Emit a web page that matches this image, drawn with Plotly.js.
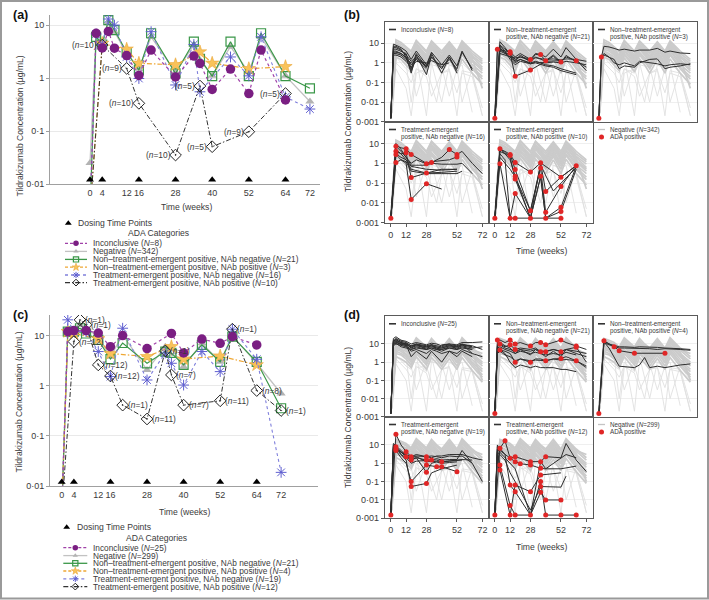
<!DOCTYPE html>
<html><head><meta charset="utf-8">
<script src="https://cdn.plot.ly/plotly-3.0.1.min.js"></script>
<style>html,body{margin:0;padding:0;background:#fff}#chart{width:709px;height:600px}</style>
</head><body><div id="chart"></div>
<script>
// ================= DATA =================
// ---- panels (a) & (c): mean concentration profiles ----
const weeksMean = [0,2,4,6,8,12,16,20,28,34,36,40,46,52,56,64,72];
const dosingWeeks = [0,4,16,28,40,52,64];
const dosingLevel = [0.012,0.012,0.012,0.012,0.012,0.012,0.012];
const xTicksMean = [0,4,12,16,28,40,52,64,72];
const yTickValsMean = [10,1,0.1,0.01];
const yTickTextMean = ['10','1','0·1','0·01'];

// (a)
const aInconclusive = [0.003,6.97,3.7,7.6,3.66,2.65,1.12,3.37,1.05,2.6,1.89,0.61,1.48,0.51,3.37,0.385,null];
const aNegative     = [0.025,7,4.5,11,7.5,2.9,1.5,6,1.3,4.2,2.2,1.1,3.9,1.3,6,1.1,0.36];
const aNtNeg        = [0.003,6,4.3,12.4,8,3.1,1.41,7,1.22,4.85,2.3,1.09,4.85,1.09,7,1.09,0.64];
const aTeNeg        = [0.003,6.8,4.3,13,10,2.5,0.98,7.5,0.74,4.3,0.55,null,2.5,1.1,6,0.44,0.26];
const aNtPosWeeks   = [0,4,12,16,28,36,40,52,64];
const aNtPos        = [0.003,4.5,3.5,1.9,1.78,3.1,1.9,1.5,1.64];
const aTePosWeeks   = [0,4,12,16,28,36,40,52,64];
const aTePos        = [0.003,4.2,1.52,0.333,0.0352,0.706,0.0506,0.097,0.51];
const aTePosN       = [null,'(<i>n</i>=10)','(<i>n</i>=9)','(<i>n</i>=10)','(<i>n</i>=10)','(<i>n</i>=5)','(<i>n</i>=5)','(<i>n</i>=9)','(<i>n</i>=5)'];

// (c)
const cInconclusive = [0.003,12,12.6,null,12.6,11.2,6,10,5.5,null,11,4.5,8.5,7,9.5,6.5,null];
const cNegative     = [0.003,12,12,16.3,14,9.5,3.8,10.3,2.06,6,5.5,2.4,7,3,10,2.8,0.7];
const cNtNeg        = [0.003,12,12,14,11,8.2,3.4,7.1,2.8,4.8,4.5,2.6,6.5,3.0,9.5,3.0,0.355];
const cTeNeg        = [0.003,20.6,12,null,12,4.8,1.52,14,1.3,4.5,2.8,1.03,4.8,1.91,13.4,3.37,0.0187];
const cNtPosWeeks   = [0,2,4,12,16,28,36,40,52,64];
const cNtPos        = [0.003,12,11,8.6,4.4,3.8,6,3.4,3.9,2.6];
const cTePosWeeks   = [0,4,6,8,12,16,20,28,34,36,40,52,56,64,72];
const cTePos        = [0.003,7.6,20.6,16.4,2.6,1.56,0.41,0.217,4.94,1.64,0.41,0.5,13.4,0.8,0.32];
const cTePosN       = [null,'(<i>n</i>=12)','(<i>n</i>=1)','(<i>n</i>=1)','(<i>n</i>=12)','(<i>n</i>=12)','(<i>n</i>=1)','(<i>n</i>=11)','(<i>n</i>=1)','(<i>n</i>=7)','(<i>n</i>=7)','(<i>n</i>=11)','(<i>n</i>=1)','(<i>n</i>=8)','(<i>n</i>=1)'];

const legendA = ['Inconclusive (<i>N</i>=8)','Negative (<i>N</i>=342)','Non–treatment-emergent positive, NAb negative (<i>N</i>=21)','Non–treatment-emergent positive, NAb positive (<i>N</i>=3)','Treatment-emergent positive, NAb negative (<i>N</i>=16)','Treatment-emergent positive, NAb positive (<i>N</i>=10)'];
const legendC = ['Inconclusive (<i>N</i>=25)','Negative (<i>N</i>=299)','Non–treatment-emergent positive, NAb negative (<i>N</i>=21)','Non–treatment-emergent positive, NAb positive (<i>N</i>=4)','Treatment-emergent positive, NAb negative (<i>N</i>=19)','Treatment-emergent positive, NAb positive (<i>N</i>=12)'];

// ---- panels (b) & (d): individual profiles ----
const weeksInd = [0,2,4,8,12,16,20,28,32,36,40,46,52,56,64,72];
const xTicksInd = [0,12,28,52,72];
const yTickValsInd = [10,1,0.1,0.01,0.001];
const yTickTextInd = ['10','1','0·1','0·01','0·001'];

// (b) negative subjects (grey background)
const bNegLines = [
 [0.0015,null,8,7,4,2,9,2,8,4,2,7,2,9,2,0.6],
 [0.0015,null,6,5,3,1.5,7,1.5,6,3,1.4,6,1.5,7,1.4,0.5],
 [0.0015,null,12,9,6,3.5,13,3.5,12,6,3,11,3,12,3,1.2],
 [0.0015,null,4,3,2,0.9,4,0.9,3.5,1.8,0.8,3.5,0.9,4,0.8,0.3],
 [0.0015,null,3,2,1.2,0.6,2.5,0.6,2.5,1.2,0.5,2.2,0.5,2.5,0.5,0.15],
 [0.0015,null,10,7,5,2.5,10,2.5,9,5,2.2,9,2.4,10,2.3,0.9],
 [0.0015,null,5,4,2.5,1.1,5,1.1,5,2.5,1,4.5,1,5,1,null],
 [0.0015,null,2,1.5,0.8,0.4,1.8,0.35,1.6,0.8,0.3,1.5,0.3,1.6,0.3,0.08],
 [0.0015,null,7,5,3.5,1.8,6,1.8,6,3,1.7,5.5,1.8,6,1.7,0.05],
 [0.0015,null,15,11,7,4,14,4,13,7,4,12,4,13,4,1.5],
 [0.0015,null,9,6,3,1.3,8,1.2,7,3.5,1.2,8,1.3,8,1.2,0.4],
 [0.0015,null,3.5,2.5,1.5,0.7,3,0.7,3,1.4,0.6,2.8,0.7,3,0.6,0.2]
];
const bNegDropLines = [
 [0.0015,null,5,3,1,0.01,0.5,0.3,1,null,0.01,0.8,0.5,1,0.3,0.002],
 [0.0015,null,0.5,null,0.05,0.002,0.3,0.5,null,0.01,0.3,0.5,0.002,0.4,0.3,0.005],
 [0.0015,null,3,2,1,0.5,0.02,1,0.8,null,0.6,0.02,0.5,0.8,0.003,null],
 [0.0015,null,2,null,0.5,0.3,2,0.002,1,null,1,0.8,0.6,0.01,0.5,0.1],
 [0.0015,0.01,1,null,0.3,0.1,0.5,0.2,0.02,null,0.3,0.4,0.03,0.3,0.2,0.002]
];
const bInclLines = [
 [0.0015,9,8,6,4,1.5,4,0.8,3.5,null,0.8,2.5,0.7,4,0.4,null],
 [0.0015,5,5,4,3,0.5,3,0.6,2,null,0.5,2,0.4,null,null,null],
 [0.0015,7,7,5,2,0.3,2.5,0.25,2.5,null,null,null,null,null,null,null],
 [0.002,3,3,2.5,1.5,1,1.5,null,null,null,null,null,null,null,null,null],
 [0.0015,2.5,2.5,2,1.2,0.6,1.2,1,1.3,null,0.8,1,null,null,null,null],
 [0.0015,4,4,3,2,0.8,1.5,0.5,null,null,null,null,null,null,null,null],
 [0.0015,6,6,4.5,2.5,1.2,2,0.7,3,null,0.3,2,0.3,null,null,null],
 [0.0015,3.5,3.5,3,1.8,0.4,1.8,0.6,2,null,0.6,1.5,0.5,3.5,0.5,null]
];
const bNtNegLines = [
 [0.0015,5,5,4,3.7,2,3,1.5,3,2.7,2,5,2,6,1.5,0.4],
 [0.0015,4.9,4,3,3.1,1.5,2,1.3,2.7,2.5,1.3,2.5,1.1,2,1.3,0.6],
 [0.0015,null,8,5,3,0.21,null,0.43,null,null,1.2,null,1.3,null,null,null],
 [0.0015,null,12,6,2.5,1.2,1.5,1,1.2,null,0.8,0.7,0.5,null,0.3,null],
 [0.0015,null,6,3,2,1,1.5,0.9,1,null,0.7,0.6,0.4,0.35,0.25,null],
 [0.0015,null,3,2.5,2,1.8,2,1.6,1.8,null,1.5,1.6,1.4,1.6,1.5,1.2],
 [0.0015,null,7,4,1.5,0.8,1.2,0.9,1.1,null,1,1.1,1,1.2,1,0.8],
 [0.0015,null,4.5,3.5,2.5,1.2,2.5,1.1,2,null,1.2,2.2,1.0,2.4,1.1,null]
];
const bNtNegRedX = [0,2,12,12,16,28,28,36,40,52,64];
const bNtNegRedY = [0.0015,4.9,3.7,3.1,0.21,1.5,0.43,2.7,1.3,1.1,1.3];
const bNtPosLines = [
 [0.0015,2,7,6.5,5.5,4.5,5,4,4.5,null,4.5,5.5,3.5,4,3.2,3],
 [0.0015,2,2.5,2,1.5,0.5,0.7,0.6,1,null,1.5,1.6,0.5,0.6,0.7,0.9],
 [0.0015,2,3,2,1,0.8,1,0.7,1.2,null,1,0.9,0.7,0.8,0.9,0.8]
];
const bNtPosRedX = [0,2];
const bNtPosRedY = [0.0015,2];
const bTeNegLines = [
 [0.0017,null,8,6,5.4,2.8,2,1,1.2,null,1.3,1.5,2.1,null,null,null],
 [0.0017,null,4,3,3.4,0.19,null,0.32,null,null,0.35,null,0.4,null,null,null],
 [0.0017,null,2.8,1.5,1,0.015,null,0.093,null,null,0.05,null,null,null,null,null],
 [0.0017,null,7.3,4,2,1,1.5,0.95,1.1,null,2,4.9,2.8,4,1,0.3],
 [0.0017,null,5,3,1.5,0.5,null,0.32,null,null,0.5,null,0.5,null,null,null],
 [0.0017,null,10,5,2,0.8,null,0.8,1,null,0.9,null,0.9,1,0.3,null],
 [0.0017,null,1.1,1.5,1.2,0.4,null,0.3,null,null,0.3,null,0.3,0.4,null,null],
 [0.0017,null,3,2,1.5,0.7,null,0.5,null,null,0.45,null,0.5,null,null,null]
];
const bTeNegRedX = [0,4,4,4,4,12,12,16,16,16,28,28,28,32,46,52,52];
const bTeNegRedY = [0.0017,7.3,4,2.8,1.1,5.4,3.4,2.8,0.19,0.015,0.95,0.32,0.093,1.1,4.9,2.8,2.1];
const bTePosLines = [
 [0.0017,null,5.4,3,2.8,1.1,null,0.36,null,1.05,0.038,null,0.2,null,0.76,null],
 [0.0017,null,0.96,null,0.0017,0.0017,null,0.0017,null,0.0017,0.0017,null,0.0017,null,null,null],
 [0.0017,null,5,4,2.8,0.48,null,0.004,null,0.57,0.0034,null,0.068,null,0.76,null],
 [0.0017,null,4,3,1.5,0.22,null,0.0017,null,0.22,0.0017,null,0.006,null,0.7,null],
 [0.0017,null,6,3.5,2,0.16,null,0.0017,null,1.05,null,null,0.2,null,0.76,null],
 [0.0017,null,3,1.5,0.0017,0.03,null,0.0017,null,0.2,0.0017,null,0.0037,null,0.5,null],
 [0.0017,null,2,1,0.5,0.2,null,0.004,null,0.8,null,0.04,null,null,0.6,null]
];
const bTePosRedX = [0,4,4,12,12,16,16,16,16,16,12,16,28,28,28,36,36,36,40,40,40,52,52,52,52,52,64];
const bTePosRedY = [0.0017,5.4,0.96,2.8,2.5,1.1,0.48,0.22,0.16,0.03,0.0017,0.0017,0.36,0.004,0.0017,1.05,0.57,0.22,0.038,0.0034,0.0017,0.2,0.068,0.006,0.0037,0.0017,0.76];
const bHeaders = [
 ['Inconclusive (<i>N</i>=8)'],
 ['Non–treatment-emergent','positive, NAb negative (<i>N</i>=21)'],
 ['Non–treatment-emergent','positive, NAb positive (<i>N</i>=3)'],
 ['Treatment-emergent','positive, NAb negative (<i>N</i>=16)'],
 ['Treatment-emergent','positive, NAb positive (<i>N</i>=10)']
];
const bLegend = ['Negative (<i>N</i>=342)','ADA positive'];

// (d)
const dNegLines = [
 [0.0015,null,10,8,6,3,12,3,10,5,3,10,3,12,3,1],
 [0.0015,null,15,12,9,5,18,5,15,8,4.5,15,5,18,4.5,1.5],
 [0.0015,null,7,5,4,2,8,2,7,3.5,2,7,2,8,2,0.6],
 [0.0015,null,5,4,2.5,1.2,5,1.2,5,2.5,1.1,4.5,1.1,5,1,0.3],
 [0.0015,null,20,16,12,7,22,7,20,10,6,20,6,22,6,2],
 [0.0015,null,3,2.5,1.5,0.7,3,0.7,2.8,1.4,0.6,2.5,0.6,3,0.6,0.15],
 [0.0015,null,12,9,7,4,14,4,12,6,3.5,12,3.5,14,3.5,0.1],
 [0.0015,null,8,6,5,2.5,9,2.5,8,4,2.5,8,2.5,9,2.4,0.8],
 [0.0015,null,2,1.5,1,0.5,2,0.4,1.8,0.9,0.4,1.6,0.4,1.8,0.35,0.08],
 [0.0015,null,18,13,10,6,16,6,15,8,5,14,5,16,5,3],
 [0.0015,null,6,5,3,1.6,7,1.5,6,3,1.5,6,1.5,6.5,1.4,0.4],
 [0.0015,null,4,3,2,1,4,0.9,3.5,1.8,0.9,3.5,0.9,4,0.8,0.2]
];
const dNegDropLines = [
 [0.0015,null,6,4,2,0.01,1,0.3,2,null,0.01,1,0.5,2,0.3,0.002],
 [0.0015,null,0.8,null,0.1,0.002,0.5,0.6,null,0.01,0.4,0.6,0.002,0.5,0.4,0.005],
 [0.0015,null,4,3,1.5,0.6,0.03,1.2,1,null,0.8,0.03,0.6,1,0.004,null],
 [0.0015,null,2.5,null,0.6,0.4,2.5,0.002,1.2,null,1.2,1,0.7,0.01,0.6,0.1],
 [0.0015,0.01,1.5,null,0.4,0.15,0.6,0.25,0.03,null,0.4,0.5,0.04,0.4,0.3,0.002]
];
const dInclLines = [
 [0.0015,15,20,14,12,8,10,8,9,8,7,9,8,10,7,null],
 [0.0015,12,15,12,10,6,8,6,7,6,5,7,6,8,6,7],
 [0.0015,10,12,10,8,5,7,5,6,5,4,6,5,7,5,null],
 [0.0015,20,25,16,14,10,12,9,11,10,8,10,9,12,12,13],
 [0.0015,8,10,8,7,4,5,3,5,4,3,4,3,5,3,null],
 [0.0015,14,18,11,9,2,4,1.5,4,2,1,4,2,4,2,null],
 [0.0015,11,13,9,9,7,9,7,8,6,6,8,7,9,8,5],
 [0.0015,16,14,10,11,6,10,5,10,5,9,10,5,10,3,2],
 [0.0015,9,11,7,6,5,6,5,6,5,5,6,5,6,5,null],
 [0.0015,13,17,12,10,8,9,7,8,7,6,8,7,9,7,null]
];
const dNtNegLines = [
 [0.0015,14,16.6,12,16.6,10,12,7.8,12,12,9,12,16.6,12,7.8,5],
 [0.0015,8,10,7,9,5,6,5,6,3.8,3.8,5,3.8,5,6.6,1],
 [0.0015,5,4.7,4,3,1,1.5,1,1.5,1.5,1.2,1.5,1.6,2,1.2,0.5],
 [0.0015,6,7,5,4,3,4,3,3.5,3,2.5,3,2.5,3.5,2.5,null],
 [0.0015,4,5,3,1,0.5,0.7,0.5,0.6,0.5,0.5,0.5,0.4,0.4,0.3,null],
 [0.0015,10,12,8,6,3,5,2.5,5,3,2,4,2,5,3,2],
 [0.0015,3,4,2.5,2,1.2,1.5,1.2,1.3,1.2,1.2,1.5,1.3,1.4,1.2,0.6],
 [0.0015,7,9,6,5,4,5,4,5,4,4,5,4,5,4,3]
];
const dNtNegRedX = [0,2,4,4,12,12,16,16,16,28,28,36,36,40,40,40,52,52,52,64,64,64];
const dNtNegRedY = [0.0015,16.6,4.7,10,16.6,9,10,5,1,7.8,1,12,3.8,9,3.8,1.2,16.6,3.8,1.6,7.8,6.6,1.2];
const dNtPosLines = [
 [0.0015,null,15,null,7.1,4.3,null,3.1,null,null,null,null,3.1,null,null,null],
 [0.0015,null,14,10,8,7,7,6.5,7,7,6.5,6.5,6,6,5.5,5],
 [0.0015,null,13,6,2,0.6,null,0.5,0.7,1.8,0.5,0.6,0.5,null,0.7,0.8],
 [0.0015,null,12,9,7,6,6,6,6,6,5.5,5,5.5,null,5,4.5]
];
const dNtPosRedX = [0,4,12,16,28,52];
const dNtPosRedY = [0.0015,15,7.1,4.3,3.1,3.1];
const dTeNegLines = [
 [0.0015,null,38,10,4.3,2.3,3,2.3,2.5,2.3,2,2.5,2.3,2.5,1,null],
 [0.0015,8,6,4,2.3,1.5,2,1.5,1.5,1.5,1.2,1.3,1.5,1.5,null,null],
 [0.0015,6,5,2,1,0.1,null,0.8,null,0.65,0.65,null,0.35,null,null,null],
 [0.0015,5,8,3,1.5,0.054,null,0.08,0.3,null,0.5,null,0.8,null,null,null],
 [0.0015,10,7,4,3,2.3,2.5,2.3,2,2.5,2.5,3,3,3,2,1.5],
 [0.0015,12,9,5,3,1.5,2,0.32,1,1.2,1.2,1.4,1.5,1.6,1.5,null],
 [0.0015,7,6,3,2,1,1.3,1.5,1.5,1.8,1.5,1.6,1.6,5,1,0.1],
 [0.0015,9,7,4,2.5,2,2.3,1.2,1.3,1.2,1,1.1,1.2,null,null,null]
];
const dTeNegRedX = [0,4,4,4,4,12,12,16,16,16,16,28,28,28,28,28,32,36,40,40,52];
const dTeNegRedY = [0.0015,38,8,6,5,4.3,2.3,2.3,1.5,0.1,0.054,2.3,1.5,0.8,0.32,0.08,1.5,0.65,0.65,1.2,0.35];
const dTePosLines = [
 [0.0015,null,6.6,17,1.9,2.3,null,1.23,null,1.23,2.3,null,2,12,1.5,0.35],
 [0.0015,5,6.6,3,0.066,0.028,null,0.0015,null,0.1,0.0015,null,0.0015,null,0.0015,null],
 [0.0015,3,0.8,null,0.005,0.0015,null,0.0015,null,0.026,0.01,null,0.01,null,null,null],
 [0.0015,8,0.43,null,0.0015,0.066,null,0.028,null,0.23,null,null,0.3,null,null,null],
 [0.0015,10,5,3,1.9,1.23,0.94,0.81,null,0.53,0.5,null,0.5,null,0.7,null],
 [0.0015,6,4,2,1,0.5,null,0.0015,null,1.23,0.5,1,2,3,2,null],
 [0.0015,4,3,1.5,0.3,0.1,null,0.0028,null,0.054,null,null,0.05,0.2,null,null]
];
const dTePosRedX = [0,4,4,4,8,12,12,12,12,16,16,16,16,16,20,28,28,28,28,36,36,36,36,36,36,40,40,40,52,52,64];
const dTePosRedY = [0.0015,6.6,0.8,0.43,17,1.9,0.066,0.005,0.0015,2.3,1.23,0.066,0.028,0.0015,0.94,1.23,0.81,0.028,0.0015,1.23,0.53,0.23,0.1,0.054,0.026,2.3,0.01,0.0015,0.01,0.0015,0.0015];
const dHeaders = [
 ['Inconclusive (<i>N</i>=25)'],
 ['Non–treatment-emergent','positive, NAb negative (<i>N</i>=21)'],
 ['Non–treatment-emergent','positive, NAb positive (<i>N</i>=4)'],
 ['Treatment-emergent','positive, NAb negative (<i>N</i>=19)'],
 ['Treatment-emergent','positive, NAb positive (<i>N</i>=12)']
];
const dLegend = ['Negative (<i>N</i>=299)','ADA positive'];

const yTitle = 'Tildrakizumab Concentration (µg/mL)';
const xTitle = 'Time (weeks)';

// ================= STYLE / LAYOUT =================
const FONT = 'Liberation Sans, Arial, Helvetica, sans-serif';
const W = 709, H = 600;
const px = v => v / W, py = v => 1 - v / H;
const TXT = '#3a3a3a';

const STY = {
  neg:   {line:{color:'#c2c2c2',width:1.3}, marker:{symbol:'triangle-up',size:8,color:'#b3b3b3'}},
  ntNeg: {line:{color:'#3a9748',width:1.2}, marker:{symbol:'square-open',size:9,color:'#3a9748',line:{width:1.2}}},
  ntPos: {line:{color:'#eea734',width:1.2,dash:'5px,2px,1.5px,2px'}, marker:{symbol:'star',size:10,color:'#f9c35a',line:{color:'#e9a63a',width:0.6}}},
  teNeg: {line:{color:'#8080dc',width:1.1,dash:'dot'}, marker:{symbol:'asterisk-open',size:9,color:'#5f5fd0',line:{width:1}}},
  tePos: {line:{color:'#333333',width:1,dash:'5px,2px,1.5px,2px'}, marker:{symbol:'diamond-open-dot',size:9,color:'#222222',line:{width:1}}},
  incl:  {line:{color:'#a041a8',width:1.2,dash:'dot'}, marker:{symbol:'circle',size:9.5,color:'#7a1e82'}}
};
const legendOrder = ['incl','neg','ntNeg','ntPos','teNeg','tePos'];
const legendDash = {incl:'3px,2px',neg:'solid',ntNeg:'solid',ntPos:'3px,2px',teNeg:'dot',tePos:'5px,2px,1.5px,2px'};

const traces = [];
const annotations = [];
const shapes = [];
const layout = {
  width: W, height: H, margin:{l:0,r:0,t:0,b:0,pad:0},
  paper_bgcolor:'#ffffff', plot_bgcolor:'rgba(0,0,0,0)', showlegend:false,
  font:{family:FONT,size:9,color:TXT}, hovermode:false,
  annotations, shapes
};

function txt(x, y, text, opts) {
  annotations.push(Object.assign({xref:'paper',yref:'paper',x:px(x),y:py(y),text,showarrow:false,
    xanchor:'left',yanchor:'middle',font:{family:FONT,size:8.6,color:TXT}}, opts||{}));
}

// ---------- mean panels ----------
function meanPanel(xa, ya, xDomPx, yDomPx, xRange, yRange, d) {
  const xk = 'xaxis' + (xa === 'x' ? '' : xa.slice(1));
  const yk = 'yaxis' + (ya === 'y' ? '' : ya.slice(1));
  layout[xk] = {domain:[px(xDomPx[0]),px(xDomPx[1])], range:xRange, anchor:ya, showline:true, linecolor:'#a0a0a0',
    linewidth:1, showgrid:false, zeroline:false, tickvals:xTicksMean, ticks:'', tickfont:{size:9,color:TXT}, fixedrange:true};
  layout[yk] = {domain:[py(yDomPx[1]),py(yDomPx[0])], type:'log', range:yRange, anchor:xa, showline:true, linecolor:'#a0a0a0',
    linewidth:1, showgrid:true, gridcolor:'#e9e9e9', zeroline:false, tickvals:yTickValsMean, ticktext:yTickTextMean,
    ticks:'outside', ticklen:3, tickcolor:'#a0a0a0', tickfont:{size:9,color:TXT}, fixedrange:true};
  const series = [
    ['neg', weeksMean, d.neg], ['ntNeg', weeksMean, d.ntNeg], ['ntPos', d.ntPosW, d.ntPos],
    ['teNeg', weeksMean, d.teNeg], ['tePos', d.tePosW, d.tePos], ['incl', weeksMean, d.incl]
  ];
  series.forEach(([k, x, y]) => {
    traces.push({type:'scatter', mode:'lines+markers', x, y, xaxis:xa, yaxis:ya, connectgaps:true,
      line:STY[k].line, marker:STY[k].marker, hoverinfo:'skip'});
  });
  traces.push({type:'scatter', mode:'markers', x:dosingWeeks, y:dosingLevel, xaxis:xa, yaxis:ya, cliponaxis:false,
    marker:{symbol:'triangle-up', size:7, color:'#000'}, hoverinfo:'skip'});
  d.tePosW.forEach((w, i) => {
    if (!d.labels[i]) return;
    annotations.push({xref:xa, yref:ya, x:w, y:Math.log10(d.tePos[i]), text:d.labels[i], showarrow:false,
      xanchor:d.labelSide === 'left' ? 'right' : 'left', xshift:d.labelSide === 'left' ? -3 : 3, yanchor:'middle',
      font:{family:FONT,size:8.4,color:TXT}});
  });
}

meanPanel('x','y',[50,320],[15,184],[-13.1,75.3],[-2,1.19],
  {neg:aNegative, ntNeg:aNtNeg, ntPosW:aNtPosWeeks, ntPos:aNtPos, teNeg:aTeNeg, tePosW:aTePosWeeks, tePos:aTePos, incl:aInconclusive, labels:aTePosN, labelSide:'left'});
meanPanel('x2','y2',[50,318],[315,486],[-3.84,84.1],[-2,1.41],
  {neg:cNegative, ntNeg:cNtNeg, ntPosW:cNtPosWeeks, ntPos:cNtPos, teNeg:cTeNeg, tePosW:cTePosWeeks, tePos:cTePos, incl:cInconclusive, labels:cTePosN, labelSide:'right'});

// ---------- small multiples ----------
const colsPx = [[385,489],[489,593],[593,697]];
function gridPanel(base, rowsPx, yRange, neg, drops, groups, headers, legendTexts) {
  for (let r = 0; r < 2; r++) for (let c = 0; c < 3; c++) {
    const idx = base + r*3 + c;
    layout['xaxis'+idx] = {domain:[px(colsPx[c][0]),px(colsPx[c][1])], range:[-4.6,77.2], anchor:'y'+idx,
      showline:true, mirror:true, linecolor:'#5a5a5a', linewidth:1.1, showgrid:false, zeroline:false,
      tickvals:xTicksInd, showticklabels:r===1, ticks:r===1?'outside':'', ticklen:3, tickcolor:'#5a5a5a',
      tickfont:{size:9,color:TXT}, fixedrange:true};
    layout['yaxis'+idx] = {domain:[py(rowsPx[r][1]),py(rowsPx[r][0])], type:'log', range:yRange, anchor:'x'+idx,
      showline:true, mirror:true, linecolor:'#5a5a5a', linewidth:1.1, showgrid:true, gridcolor:'#efefef', zeroline:false,
      tickvals:yTickValsInd, ticktext:yTickTextInd, showticklabels:c===0, ticks:c===0?'outside':'', ticklen:3,
      tickcolor:'#5a5a5a', tickfont:{size:9,color:TXT}, fixedrange:true};
  }
  groups.forEach((g, gi) => {
    const idx = base + gi;
    const xa = 'x'+idx, ya = 'y'+idx;
    drops.forEach(l => traces.push({type:'scatter',mode:'lines',x:weeksInd,y:l,xaxis:xa,yaxis:ya,connectgaps:true,
      line:{color:'#e0e0e0',width:0.9},hoverinfo:'skip'}));
    neg.forEach(l => traces.push({type:'scatter',mode:'lines',x:weeksInd,y:l,xaxis:xa,yaxis:ya,connectgaps:true,
      line:{color:'#cbcbcb',width:1.7},hoverinfo:'skip'}));
    g.lines.forEach(l => traces.push({type:'scatter',mode:'lines',x:weeksInd,y:l,xaxis:xa,yaxis:ya,connectgaps:true,
      line:{color:'#2e2e2e',width:1},hoverinfo:'skip'}));
    if (g.rx) traces.push({type:'scatter',mode:'markers',x:g.rx,y:g.ry,xaxis:xa,yaxis:ya,cliponaxis:false,
      marker:{color:'#e02626',size:5},hoverinfo:'skip'});
  });
  headers.forEach((h, i) => {
    const r = Math.floor(i/3), c = i % 3;
    const top = rowsPx[r][0] + 7.8;
    const sx = colsPx[c][0] + (c === 0 ? 4 : 5);
    shapes.push({type:'line',xref:'paper',yref:'paper',x0:px(sx),x1:px(sx+7),y0:py(top),y1:py(top),line:{color:'#333',width:1.6}});
    h.forEach((line, k) => txt(sx+9.5, top + k*7.4, line, {font:{family:FONT,size:6.3,color:TXT}}));
  });
  const lt = rowsPx[1][0] + 7.8, lx = colsPx[2][0] + 5;
  shapes.push({type:'line',xref:'paper',yref:'paper',x0:px(lx),x1:px(lx+7),y0:py(lt),y1:py(lt),line:{color:'#c4c4c4',width:1.3}});
  traces.push({type:'scatter',mode:'markers',x:[lx+3.5],y:[lt+7.4],xaxis:'x15',yaxis:'y15',marker:{color:'#e02626',size:5},hoverinfo:'skip'});
  txt(lx+10, lt, legendTexts[0], {font:{family:FONT,size:6.3,color:TXT}});
  txt(lx+10, lt+7.4, legendTexts[1], {font:{family:FONT,size:6.3,color:TXT}});
}

gridPanel(3, [[21.7,121.7],[121.7,222.7]], [-3,2.1], bNegLines, bNegDropLines, [
  {lines:bInclLines},
  {lines:bNtNegLines, rx:bNtNegRedX, ry:bNtNegRedY},
  {lines:bNtPosLines, rx:bNtPosRedX, ry:bNtPosRedY},
  {lines:bTeNegLines, rx:bTeNegRedX, ry:bTeNegRedY},
  {lines:bTePosLines, rx:bTePosRedX, ry:bTePosRedY}
], bHeaders, bLegend);
gridPanel(9, [[316,416.7],[416.7,518.3]], [-3,2.54], dNegLines, dNegDropLines, [
  {lines:dInclLines},
  {lines:dNtNegLines, rx:dNtNegRedX, ry:dNtNegRedY},
  {lines:dNtPosLines, rx:dNtPosRedX, ry:dNtPosRedY},
  {lines:dTeNegLines, rx:dTeNegRedX, ry:dTeNegRedY},
  {lines:dTePosLines, rx:dTePosRedX, ry:dTePosRedY}
], dHeaders, dLegend);

// overlay pixel axis for legend swatches
layout.xaxis15 = {domain:[0,1], range:[0,W], visible:false, fixedrange:true, anchor:'y15'};
layout.yaxis15 = {domain:[0,1], range:[H,0], visible:false, fixedrange:true, anchor:'x15'};

function meanLegend(triX, triY, textX, headX, headY, rows, x0, x1, texts) {
  traces.push({type:'scatter',mode:'markers',x:[triX],y:[triY],xaxis:'x15',yaxis:'y15',marker:{symbol:'triangle-up',size:6,color:'#000'},hoverinfo:'skip'});
  txt(textX, triY, 'Dosing Time Points');
  txt(headX, headY, 'ADA Categories', {xanchor:'center'});
  legendOrder.forEach((k, i) => {
    const y = rows[i];
    traces.push({type:'scatter',mode:'lines',x:[x0,x1],y:[y,y],xaxis:'x15',yaxis:'y15',
      line:{color:STY[k].line.color,width:1.3,dash:legendDash[k]},hoverinfo:'skip'});
    const m = Object.assign({}, STY[k].marker, {size:STY[k].marker.size*0.58});
    traces.push({type:'scatter',mode:'markers',x:[(x0+x1)/2],y:[y],xaxis:'x15',yaxis:'y15',marker:m,hoverinfo:'skip'});
    txt(x1+3.5, y, texts[i], {font:{family:FONT,size:8.3,color:TXT}});
  });
}
meanLegend(68.3, 223.3, 75.5, 158.3, 233.3, [243.3,251.4,259.4,267.2,275,282.6], 65, 87, legendA);
meanLegend(66.7, 527.3, 74.5, 156, 537.7, [547.7,555.6,563.3,571,578.8,586.6], 63.3, 87.3, legendC);

// axis titles & panel labels
txt(19.5, 126, yTitle, {textangle:-90, xanchor:'center', yanchor:'middle'});
txt(18.5, 402, yTitle, {textangle:-90, xanchor:'center', yanchor:'middle'});
txt(348, 122, yTitle, {textangle:-90, xanchor:'center', yanchor:'middle'});
txt(348, 418, yTitle, {textangle:-90, xanchor:'center', yanchor:'middle'});
txt(186, 207, xTitle, {xanchor:'center'});
txt(184, 512, xTitle, {xanchor:'center'});
txt(541.7, 250.7, xTitle, {xanchor:'center'});
txt(541.7, 546.7, xTitle, {xanchor:'center'});
[['(a)',11,15],['(b)',342,15],['(c)',11,315],['(d)',342,315]].forEach(([t,x,y]) =>
  txt(x, y, '<b>'+t+'</b>', {font:{family:FONT,size:12.5,color:'#111'}}));

// figure border
shapes.push({type:'rect',xref:'paper',yref:'paper',x0:px(1),x1:px(708),y0:py(598.5),y1:py(1),line:{color:'#9a9a9a',width:2}});

Plotly.newPlot('chart', traces, layout, {staticPlot:true, displayModeBar:false});
</script>
</body></html>
